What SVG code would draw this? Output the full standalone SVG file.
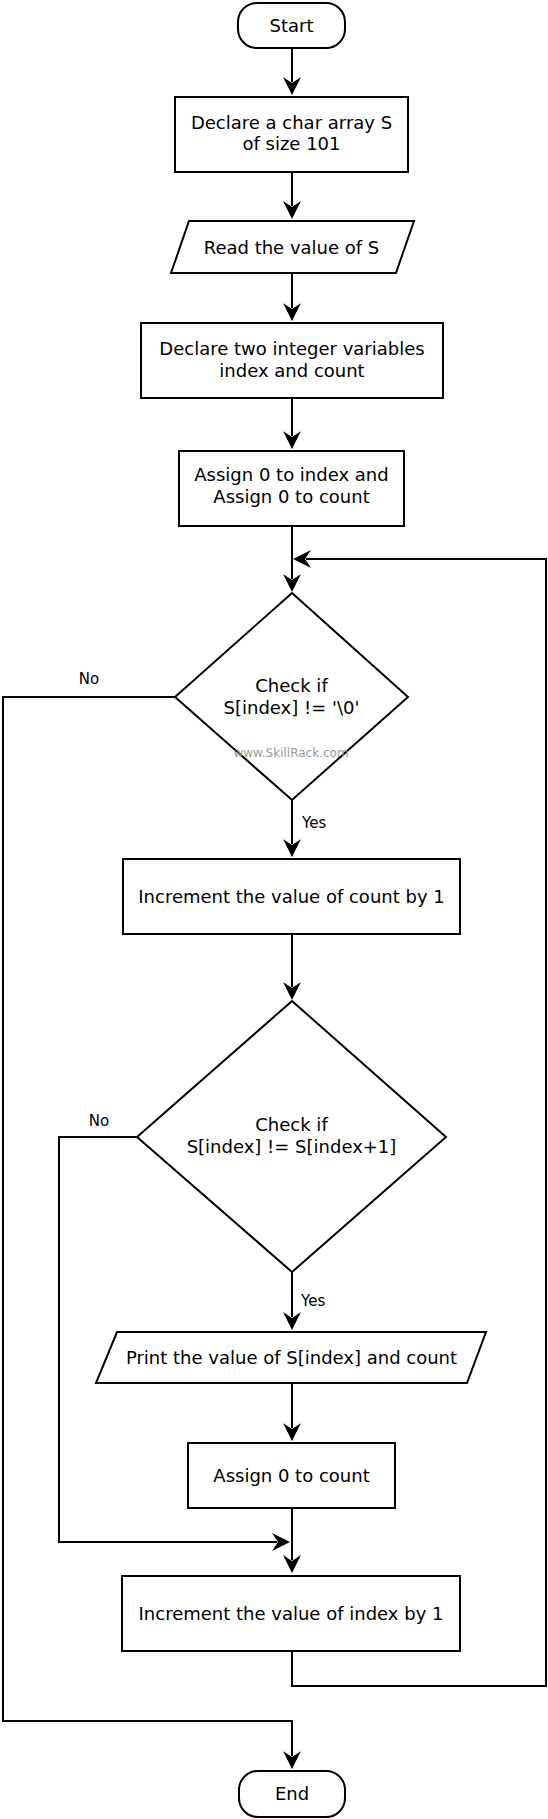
<svg xmlns="http://www.w3.org/2000/svg" width="548" height="1819" viewBox="0 0 548 1819">
<style>
.s{fill:#fff;stroke:#000;stroke-width:2}
.t{font-family:"DejaVu Sans",sans-serif;font-size:18px;fill:#000;text-anchor:middle}
.l{font-family:"DejaVu Sans",sans-serif;font-size:15px;fill:#000}
.c{fill:none;stroke:#000;stroke-width:2}
.w{font-family:"DejaVu Sans",sans-serif;font-size:12px;fill:#999;text-anchor:middle}
</style>
<defs>
<marker id="a" markerUnits="userSpaceOnUse" markerWidth="20" markerHeight="20" refX="5" refY="9" orient="auto" viewBox="0 0 20 20">
<path d="M18,9 L0,0 L6,9 L0,18 Z" fill="#000"/>
</marker>
</defs>
<rect width="548" height="1819" fill="#fff"/>
<g id="connectors">
<path class="c" d="M292,48 V82" marker-end="url(#a)"/>
<path class="c" d="M292,172 V206" marker-end="url(#a)"/>
<path class="c" d="M292,273 V308" marker-end="url(#a)"/>
<path class="c" d="M292,398 V436" marker-end="url(#a)"/>
<path class="c" d="M292,526 V579" marker-end="url(#a)"/>
<path class="c" d="M292,1651 V1686 H546 V559 H306" marker-end="url(#a)"/>
<path class="c" d="M292,800 V844" marker-end="url(#a)"/>
<path class="c" d="M175,697 H3 V1721 H292 V1756" marker-end="url(#a)"/>
<path class="c" d="M292,934 V987" marker-end="url(#a)"/>
<path class="c" d="M292,1272 V1317" marker-end="url(#a)"/>
<path class="c" d="M292,1383 V1428" marker-end="url(#a)"/>
<path class="c" d="M292,1508 V1560" marker-end="url(#a)"/>
<path class="c" d="M137,1137 H59 V1542 H277" marker-end="url(#a)"/>
<text class="l" x="89" y="684" text-anchor="middle">No</text>
<text class="l" x="302" y="828">Yes</text>
<text class="l" x="99" y="1126" text-anchor="middle">No</text>
<text class="l" x="301" y="1306">Yes</text>
</g>
<g id="start">
<rect class="s" x="238" y="3" width="107" height="45" rx="19" ry="19"/>
<text class="t" x="291.5" y="32">Start</text>
</g>
<g id="declareS">
<rect class="s" x="175" y="97" width="233" height="75"/>
<text class="t" x="291.5" y="128.5">Declare a char array S</text>
<text class="t" x="291.5" y="150">of size 101</text>
</g>
<g id="readS">
<path class="s" d="M189,221 H414 L396,273 H171 Z"/>
<text class="t" x="291.5" y="253.5">Read the value of S</text>
</g>
<g id="declareVars">
<rect class="s" x="141" y="323" width="302" height="75"/>
<text class="t" x="292" y="355">Declare two integer variables</text>
<text class="t" x="292" y="377">index and count</text>
</g>
<g id="assignInit">
<rect class="s" x="179" y="451" width="225" height="75"/>
<text class="t" x="291.5" y="481">Assign 0 to index and</text>
<text class="t" x="291.5" y="503">Assign 0 to count</text>
</g>
<g id="check1">
<path class="s" d="M292,593 L408,697 L292,800 L175,697 Z"/>
<text class="t" x="291.5" y="692">Check if</text>
<text class="t" x="291.5" y="713.5">S[index] != '\0'</text>
<text class="w" x="291" y="757">www.SkillRack.com</text>
</g>
<g id="incCount">
<rect class="s" x="123" y="859" width="337" height="75"/>
<text class="t" x="291.5" y="903">Increment the value of count by 1</text>
</g>
<g id="check2">
<path class="s" d="M292,1001 L446,1137 L292,1272 L137,1137 Z"/>
<text class="t" x="291.5" y="1131">Check if</text>
<text class="t" x="291.5" y="1153">S[index] != S[index+1]</text>
</g>
<g id="print">
<path class="s" d="M117,1332 H486 L467,1383 H96 Z"/>
<text class="t" x="291.5" y="1364">Print the value of S[index] and count</text>
</g>
<g id="resetCount">
<rect class="s" x="188" y="1443" width="207" height="65"/>
<text class="t" x="291.5" y="1482">Assign 0 to count</text>
</g>
<g id="incIndex">
<rect class="s" x="122" y="1576" width="338" height="75"/>
<text class="t" x="291" y="1620">Increment the value of index by 1</text>
</g>
<g id="end">
<rect class="s" x="239" y="1771" width="106" height="46" rx="19" ry="19"/>
<text class="t" x="292" y="1800">End</text>
</g>
</svg>
